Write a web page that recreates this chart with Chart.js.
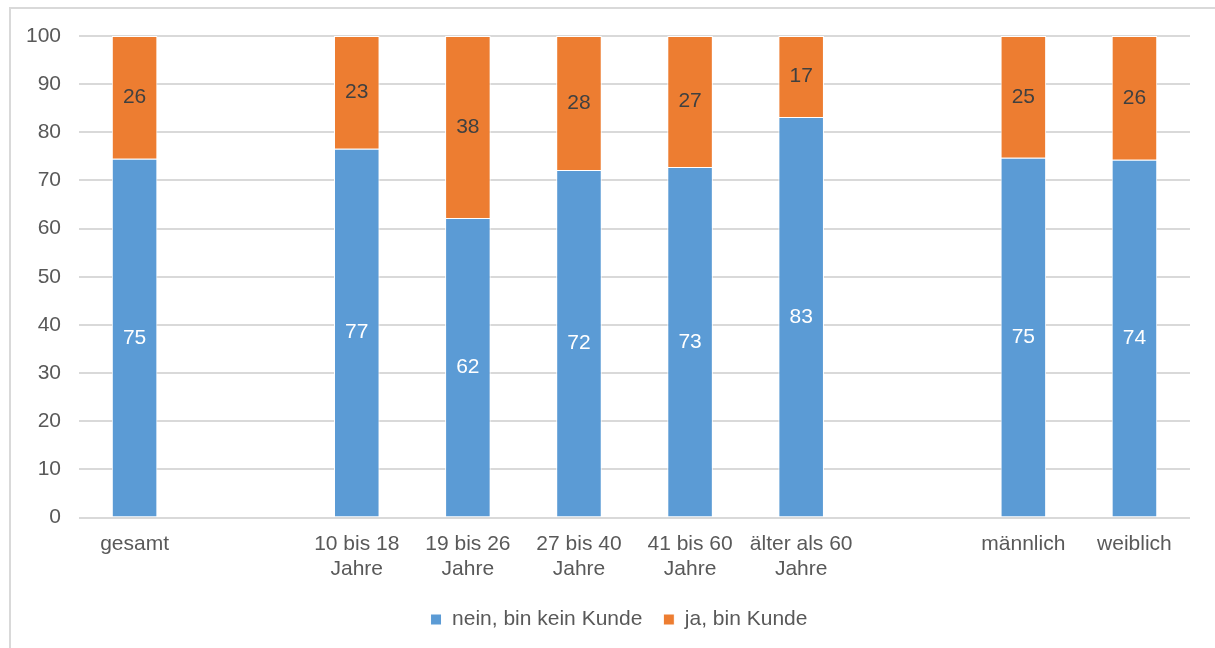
<!DOCTYPE html>
<html>
<head>
<meta charset="utf-8">
<script src="https://cdn.jsdelivr.net/npm/chart.js@4/dist/chart.umd.min.js"></script>
<style>
    html, body { margin: 0; padding: 0; background: #fff; overflow: hidden; }
    #frame { position: absolute; left: 9px; top: 7px; width: 1220px; height: 660px; border: 2px solid #d9d9d9; box-sizing: border-box; }
    #wrap { position: absolute; left: 0; top: 0; width: 1215px; height: 648px; }
</style>
</head>
<body>
<div id="frame"></div>
<div id="wrap"><canvas id="chart"></canvas></div>
<script>
// Kategorien (leere Einträge = Lücken zwischen den Gruppen)
var categories = [
    'gesamt',
    '',
    ['10 bis 18', 'Jahre'],
    ['19 bis 26', 'Jahre'],
    ['27 bis 40', 'Jahre'],
    ['41 bis 60', 'Jahre'],
    ['älter als 60', 'Jahre'],
    '',
    'männlich',
    'weiblich'
];
var neinValues = [74.5, null, 76.6, 62.2, 72.2, 72.8, 83.2, null, 74.7, 74.3];
var jaValues   = [25.5, null, 23.4, 37.8, 27.8, 27.2, 16.8, null, 25.3, 25.7];
var yTicks = [0, 10, 20, 30, 40, 50, 60, 70, 80, 90, 100];

var textColor = '#595959';
var fontFamily = '"Liberation Sans", Arial, sans-serif';

// Werte in die Balken schreiben
var valueLabels = {
    id: 'valueLabels',
    afterDatasetsDraw: function(chart) {
        var ctx = chart.ctx;
        ctx.save();
        ctx.font = '21px ' + fontFamily;
        ctx.textAlign = 'center';
        ctx.textBaseline = 'middle';
        chart.data.datasets.forEach(function(ds, i) {
            var meta = chart.getDatasetMeta(i);
            meta.data.forEach(function(el, j) {
                var v = ds.data[j];
                if (v === null || v === undefined) return;
                ctx.fillStyle = ds.labelColor;
                ctx.fillText(Math.round(v), el.x, (el.y + el.base) / 2);
            });
        });
        ctx.restore();
    }
};

// Legende etwas nach rechts schieben (wie im Original)
var legendShift = {
    id: 'legendShift',
    afterLayout: function(chart) {
        if (chart.legend) {
            chart.legend.left += 20;
            chart.legend.right += 20;
        }
    }
};

new Chart(document.getElementById('chart'), {
    type: 'bar',
    data: {
        labels: categories,
        datasets: [
            {
                label: 'nein, bin kein Kunde',
                data: neinValues,
                backgroundColor: '#5b9bd5',
                borderColor: '#ffffff',
                borderWidth: 1,
                labelColor: '#ffffff'
            },
            {
                label: 'ja, bin Kunde',
                data: jaValues,
                backgroundColor: '#ed7d31',
                borderColor: '#ffffff',
                borderWidth: 1,
                labelColor: '#404040'
            }
        ]
    },
    options: {
        responsive: true,
        maintainAspectRatio: false,
        animation: false,
        layout: { padding: { left: 8, right: 25, top: 36, bottom: 8 } },
        datasets: { bar: { categoryPercentage: 1.0, barPercentage: 0.41 } },
        plugins: {
            legend: {
                position: 'bottom',
                labels: {
                    color: textColor,
                    font: { size: 21, family: fontFamily },
                    boxWidth: 11,
                    boxHeight: 11,
                    padding: 21
                }
            },
            tooltip: { enabled: false }
        },
        scales: {
            x: {
                stacked: true,
                grid: { display: false },
                border: { display: false },
                ticks: {
                    color: textColor,
                    font: { size: 21, family: fontFamily },
                    maxRotation: 0,
                    autoSkip: false,
                    padding: 6
                }
            },
            y: {
                stacked: true,
                min: 0,
                max: 100,
                afterBuildTicks: function(axis) {
                    axis.ticks = yTicks.map(function(v) { return { value: v }; });
                },
                grid: { color: '#d9d9d9', lineWidth: 2, drawTicks: false },
                border: { display: false },
                ticks: {
                    color: textColor,
                    padding: 18,
                    font: { size: 21, family: fontFamily }
                }
            }
        }
    },
    plugins: [valueLabels, legendShift]
});
</script>
</body>
</html>
